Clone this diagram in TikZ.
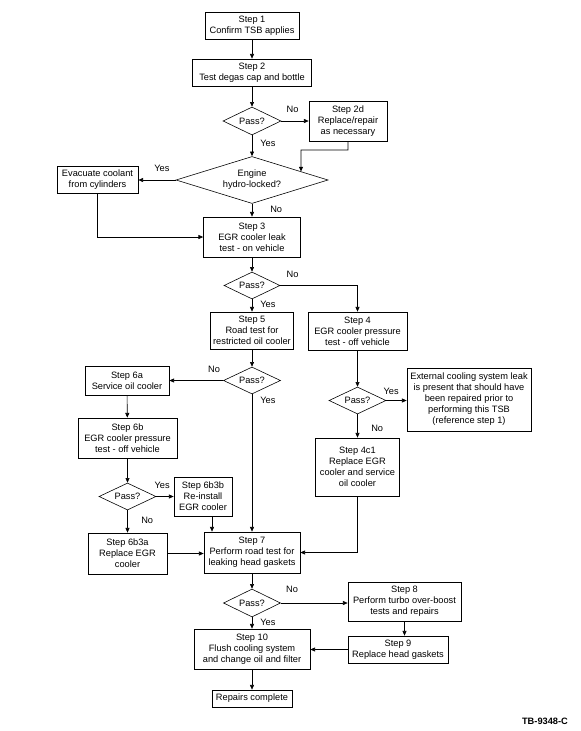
\documentclass[tikz,border=0pt]{standalone}
\usepackage{fontspec}
\setmainfont{Liberation Sans}
\usetikzlibrary{shapes.geometric,arrows.meta}

\tikzset{
  stepbox/.style 2 args={draw, line width=0.6pt, align=center, inner sep=1pt,
    minimum width=#1*0.03cm, minimum height=#2*0.03cm},
  passbox/.style 2 args={draw, diamond, line width=0.5pt, align=center, inner sep=0pt,
    aspect=2, minimum width=#1*0.03cm, minimum height=#2*0.03cm},
  flow/.style={line width=0.5pt, -{Triangle[length=4pt,width=3.4pt]}},
  lblar/.style={anchor=south west, pos=0, inner sep=0pt, yshift=0.23cm},
  lblal/.style={anchor=south east, pos=0, inner sep=0pt, yshift=0.23cm},
  lblbr/.style={anchor=north west, pos=0, inner sep=0pt, xshift=0.24cm, yshift=-0.06cm}
}

\begin{document}
\begin{tikzpicture}[x=0.03cm, y=-0.03cm, every node/.style={font=\fontsize{7.9}{9.4}\selectfont}]
            \useasboundingbox (0,0) rectangle (580,731);
            % Colonna centrale
            \node[stepbox={94}{27}] (s1) at (252,25.5) {Step 1\\Confirm TSB applies};
            \node[stepbox={119}{27}] (s2) at (252,72.5) {Step 2\\Test degas cap and bottle};
            \node[passbox={58}{28}] (d1) at (252,121) {Pass?};
            \node[stepbox={78}{40}] (s2d) at (348,121) {Step 2d\\Replace/repair\\as necessary};
            \node[passbox={152}{47}, aspect=3.2] (eng) at (252,180) {Engine\\hydro-locked?};
            \node[stepbox={81}{27}] (evac) at (97.5,180) {Evacuate coolant\\from cylinders};
            \node[stepbox={97}{40}] (s3) at (252,237) {Step 3\\EGR cooler leak\\test - on vehicle};
            \node[passbox={56}{27}] (d2) at (252,285.5) {Pass?};
            \node[stepbox={83}{37}] (s5) at (252,330.5) {Step 5\\Road test for\\restricted oil cooler};
            \node[stepbox={99}{38}] (s4) at (357.5,331) {Step 4\\EGR cooler pressure\\test - off vehicle};
            \node[passbox={57}{27}] (d3) at (252,380.5) {Pass?};
            % Ramo oil cooler
            \node[stepbox={84}{29}] (s6a) at (127,380.5) {Step 6a\\Service oil cooler};
            \node[stepbox={99}{40}] (s6b) at (127.5,438) {Step 6b\\EGR cooler pressure\\test - off vehicle};
            \node[passbox={57}{27}] (d4) at (127.5,496.5) {Pass?};
            \node[stepbox={58}{39}] (s6b3b) at (203,496.5) {Step 6b3b\\Re-install\\EGR cooler};
            \node[stepbox={79}{41}] (s6b3a) at (127.5,553.5) {Step 6b3a\\Replace EGR\\cooler};
            % Ramo pressure test
            \node[passbox={57}{27}] (d5) at (357.5,400.5) {Pass?};
            \node[stepbox={124}{63}] (ext) at (469,399.5) {External cooling system leak\\is present that should have\\been repaired prior to\\performing this TSB\\(reference step 1)};
            \node[stepbox={84}{58}] (s4c1) at (357.5,467) {Step 4c1\\Replace EGR\\cooler and service\\oil cooler};
            % Parte finale
            \node[stepbox={96}{41}] (s7) at (252,552.5) {Step 7\\Perform road test for\\leaking head gaskets};
            \node[passbox={57}{28}] (d6) at (252,603) {Pass?};
            \node[stepbox={113}{39}] (s8) at (404.5,601.5) {Step 8\\Perform turbo over-boost\\tests and repairs};
            \node[stepbox={100}{27}] (s9) at (398,649.5) {Step 9\\Replace head gaskets};
            \node[stepbox={116}{40}] (s10) at (252,649) {Step 10\\Flush cooling system\\and change oil and filter};
            \node[stepbox={80}{17}] (done) at (252,698.5) {Repairs complete};
            \node[anchor=east, font=\fontsize{7.9}{9.4}\selectfont\bfseries] (tb) at (572,721) {TB-9348-C};
            \coordinate (bend) at (301,150);
            % Frecce
            \draw[flow] (s1) -- (s2);
            \draw[flow] (s2) -- (d1);
            \draw[flow] (d1.east) -- node[lblar, xshift=0.15cm] {No} (d1.east -| s2d.west);
            \draw[flow] (d1.south) -- node[lblbr, yshift=-0.08cm] {Yes} (eng.north);
            \draw[flow] (s2d.south) |- (bend) -- (intersection of bend--301,200 and eng.north--eng.east);
            \draw[flow] (eng.west) -- node[lblal, xshift=-0.18cm] {Yes} (eng.west -| evac.east);
            \draw[flow] (eng.south) -- node[lblbr, xshift=0.3cm] {No} (s3.north);
            \draw[flow] (evac.south) |- (s3.west);
            \draw[flow] (s3) -- (d2);
            \draw[flow] (d2.east) -| node[lblar, xshift=0.18cm] {No} (s4.north);
            \draw[flow] (d2.south) -- node[lblbr, yshift=0cm] {Yes} (s5.north);
            \draw[flow] (s5) -- (d3);
            \draw[flow] (d3.west) -- node[lblal, xshift=-0.09cm] {No} (d3.west -| s6a.east);
            \draw[flow] (d3.south) -- node[lblbr, yshift=-0.03cm] {Yes} (s7.north);
            \draw[flow] (s6a) -- (s6b);
            \draw[flow] (s6b) -- (d4);
            \draw[flow] (d4.east) -- node[lblar, xshift=-0.06cm] {Yes} (d4.east -| s6b3b.west);
            \draw[flow] (d4.south) -- node[lblbr, xshift=0.165cm, yshift=-0.14cm] {No} (s6b3a.north);
            \draw[flow] ([xshift=0.27cm]s6b3b.south) -- ([xshift=0.27cm]s6b3b.south |- s7.north);
            \draw[flow] (s6b3a.east) -- (s6b3a.east -| s7.west);
            \draw[flow] (s4) -- (d5);
            \draw[flow] (d5.east) -- node[lblar, xshift=-0.09cm, yshift=-0.06cm] {Yes} (d5.east -| ext.west);
            \draw[flow] (d5.south) -- node[lblbr, xshift=0.165cm, yshift=-0.26cm] {No} (s4c1.north);
            \draw[flow] (s4c1.south) |- (s7.east);
            \draw[flow] (s7) -- (d6);
            \draw[flow] (d6.east) -- node[lblar, xshift=0.15cm, yshift=0.06cm] {No} (d6.east -| s8.west);
            \draw[flow] (d6.south) -- node[lblbr, yshift=0cm] {Yes} (s10.north);
            \draw[flow] (s8.south) -- (s8.south |- s9.north);
            \draw[flow] (s9.west) -- (s9.west -| s10.east);
            \draw[flow] (s10) -- (done);
\end{tikzpicture}
\end{document}
